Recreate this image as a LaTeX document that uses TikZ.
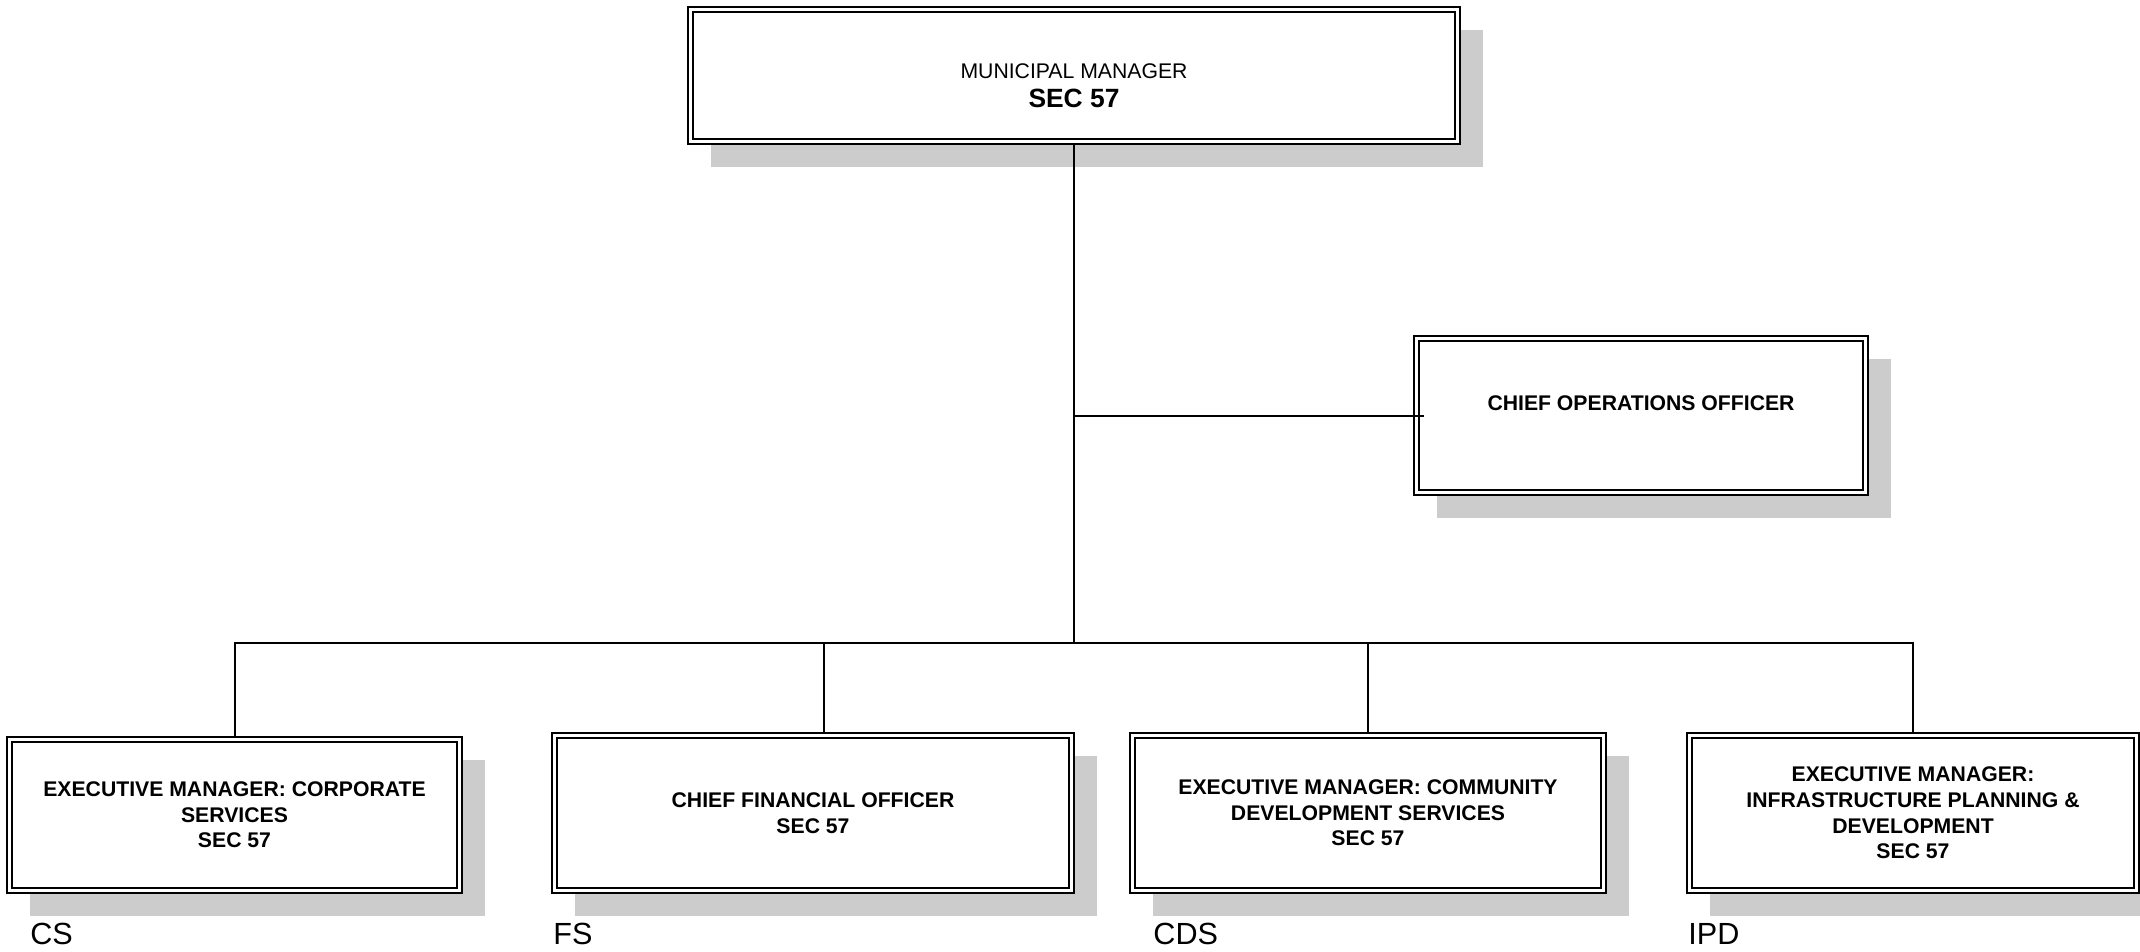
\documentclass[tikz,border=0pt]{standalone}
\usepackage{fontspec}
\setmainfont{Liberation Sans}
\usetikzlibrary{shadows}
\definecolor{shadowgray}{HTML}{CCCCCC}
\tikzset{
  orgbox/.style={draw=black, line width=0.6pt, fill=white, inner sep=0pt, align=center,
    font=\bfseries\fontsize{10.6}{12.8}\selectfont,
    drop shadow={shadow xshift=11.5pt, shadow yshift=-11.5pt, fill=shadowgray, opacity=1},
    path picture={\draw[line width=1pt]
      ([shift={(2.5pt,-2.5pt)}]path picture bounding box.north west) rectangle
      ([shift={(-2.5pt,2.5pt)}]path picture bounding box.south east);}},
  link/.style={line width=1pt, line cap=rect},
  boldtext/.style={inner sep=0pt, font=\bfseries\fontsize{10.6}{12.8}\selectfont},
  unitlabel/.style={anchor=base west, inner sep=0pt, font=\fontsize{15.3}{18}\selectfont}
}
\begin{document}
\begin{tikzpicture}[x=0.5pt, y=-0.5pt]
\useasboundingbox (0,0) rectangle (2140,952);

% top of the hierarchy
\node[orgbox, minimum width=386pt, minimum height=68.5pt] (mm) at (1074,75.5) {};
\node[inner sep=0pt, font=\fontsize{10.6}{12.8}\selectfont] (mmtitle) at (1074,71) {MUNICIPAL MANAGER};
\node[inner sep=0pt, font=\bfseries\fontsize{13.2}{15}\selectfont] (mmsec) at (1074,98) {SEC 57};

% staff office
\node[orgbox, minimum width=227pt, minimum height=79.5pt] (coo) at (1641,415.5) {};
\node[boldtext] (cootext) at (1641,403) {CHIEF OPERATIONS OFFICER};

% directorates
\node[orgbox, minimum width=227.5pt, minimum height=78pt] (cs) at (234.5,815)
  {EXECUTIVE MANAGER: CORPORATE\\SERVICES\\SEC 57};
\node[orgbox, minimum width=261pt, minimum height=80pt] (fs) at (813,813)
  {CHIEF FINANCIAL OFFICER\\SEC 57};
\node[orgbox, minimum width=238pt, minimum height=80pt] (cds) at (1368,813)
  {EXECUTIVE MANAGER: COMMUNITY\\DEVELOPMENT SERVICES\\SEC 57};
\node[orgbox, minimum width=226pt, minimum height=80pt] (ipd) at (1913,813)
  {EXECUTIVE MANAGER:\\INFRASTRUCTURE PLANNING \&\\DEVELOPMENT\\SEC 57};

% reporting lines
\coordinate (hub) at (1074,643);
\coordinate (cootap) at (1074,415.5);
\coordinate (fstap) at ([xshift=5.5pt]fs.north);
\draw[link] (mm.south) -- (hub);
\draw[link] (cootap) -- ([xshift=5pt]coo.west);
\draw[link] (cs.north |- hub) -- (ipd.north |- hub);
\draw[link] (cs.north |- hub) -- (cs.north);
\draw[link] (fstap |- hub) -- (fstap);
\draw[link] (cds.north |- hub) -- (cds.north);
\draw[link] (ipd.north |- hub) -- (ipd.north);

% department codes
\node[unitlabel] (cslab) at (30,944) {CS};
\node[unitlabel] (fslab) at (553,944) {FS};
\node[unitlabel] (cdslab) at (1153,944) {CDS};
\node[unitlabel] (ipdlab) at (1688,944) {IPD};
\end{tikzpicture}
\end{document}
